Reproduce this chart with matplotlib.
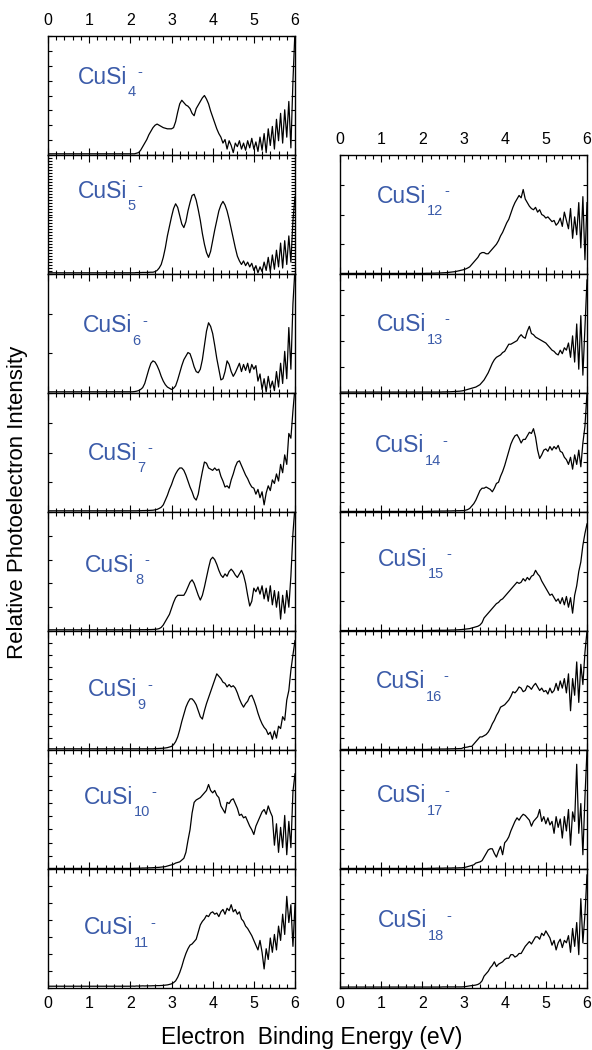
import numpy as np
import matplotlib
matplotlib.use("Agg")
from matplotlib import pyplot as plt
from matplotlib.ticker import MultipleLocator

plt.rcParams['font.family'] = ['Liberation Sans', 'DejaVu Sans']

# energy grid of the read-off points (eV), 0.05 eV steps from 2 to 6
energy = np.linspace(2.0, 6.0, 81)

# relative intensities (fraction of panel height)
cusi4 = [0.01, 0.01, 0.01, 0.015, 0.02, 0.04, 0.07, 0.10, 0.13, 0.17,
         0.20, 0.23, 0.25, 0.26, 0.25, 0.24, 0.23, 0.225, 0.22, 0.22,
         0.22, 0.23, 0.28, 0.36, 0.43, 0.46, 0.44, 0.42, 0.41, 0.39,
         0.35, 0.33, 0.39, 0.42, 0.45, 0.48, 0.50, 0.47, 0.43, 0.37,
         0.32, 0.27, 0.22, 0.18, 0.15, 0.10, 0.13, 0.05, 0.12, 0.08,
         0.02, 0.10, 0.07, 0.12, 0.05, 0.10, 0.04, 0.12, 0.06, 0.14,
         0.05, 0.11, 0.03, 0.15, 0.04, 0.18, 0.02, 0.22, 0.08, 0.24,
         0.05, 0.30, 0.12, 0.35, 0.10, 0.38, 0.15, 0.45, 0.06, 0.62,
         1.05]
cusi5 = [0.01, 0.01, 0.01, 0.012, 0.012, 0.012, 0.013, 0.013, 0.013, 0.014,
         0.015, 0.015, 0.02, 0.03, 0.05, 0.08, 0.14, 0.22, 0.32, 0.40,
         0.48, 0.55, 0.59, 0.56, 0.49, 0.42, 0.39, 0.44, 0.53, 0.60,
         0.66, 0.67, 0.62, 0.54, 0.45, 0.34, 0.25, 0.18, 0.14, 0.19,
         0.28, 0.37, 0.45, 0.53, 0.58, 0.61, 0.58, 0.53, 0.46, 0.38,
         0.30, 0.22, 0.15, 0.11, 0.08, 0.11, 0.07, 0.10, 0.06, 0.09,
         0.03, 0.07, 0.01, 0.06, 0.02, 0.10, 0.03, 0.14, 0.02, 0.16,
         0.04, 0.20, 0.06, 0.26, 0.05, 0.28, 0.08, 0.32, 0.10, 0.45,
         0.65]
cusi6 = [0.01, 0.01, 0.012, 0.015, 0.02, 0.03, 0.045, 0.08, 0.14, 0.20,
         0.25, 0.27, 0.26, 0.23, 0.19, 0.14, 0.10, 0.07, 0.05, 0.04,
         0.03, 0.04, 0.06, 0.11, 0.17, 0.23, 0.28, 0.31, 0.34, 0.33,
         0.28, 0.22, 0.18, 0.17, 0.20, 0.28, 0.40, 0.52, 0.59, 0.56,
         0.50, 0.40, 0.29, 0.20, 0.11, 0.12, 0.18, 0.27, 0.24, 0.18,
         0.14, 0.17, 0.21, 0.25, 0.18, 0.24, 0.19, 0.25, 0.17, 0.24,
         0.20, 0.23, 0.10, 0.16, 0.03, 0.12, 0.01, 0.14, 0.04, 0.10,
         0.02, 0.18, 0.05, 0.25, 0.08, 0.35, 0.12, 0.55, 0.20, 0.75,
         1.05]
cusi7 = [0.01, 0.01, 0.01, 0.01, 0.011, 0.011, 0.012, 0.012, 0.013, 0.013,
         0.014, 0.015, 0.018, 0.022, 0.03, 0.04, 0.06, 0.10, 0.14, 0.19,
         0.23, 0.28, 0.32, 0.35, 0.37, 0.37, 0.35, 0.31, 0.26, 0.21,
         0.17, 0.12, 0.10, 0.15, 0.25, 0.34, 0.42, 0.41, 0.37, 0.36,
         0.35, 0.37, 0.35, 0.36, 0.30, 0.26, 0.21, 0.22, 0.20, 0.27,
         0.32, 0.38, 0.42, 0.43, 0.39, 0.35, 0.31, 0.28, 0.24, 0.21,
         0.20, 0.15, 0.19, 0.12, 0.17, 0.06, 0.16, 0.22, 0.18, 0.27,
         0.24, 0.32, 0.26, 0.40, 0.33, 0.48, 0.40, 0.66, 0.62, 0.85,
         1.05]
cusi8 = [0.01, 0.01, 0.01, 0.01, 0.01, 0.011, 0.011, 0.011, 0.012, 0.012,
         0.012, 0.013, 0.014, 0.016, 0.02, 0.03, 0.05, 0.08, 0.11, 0.14,
         0.19, 0.24, 0.28, 0.30, 0.30, 0.30, 0.30, 0.33, 0.37, 0.41,
         0.43, 0.40, 0.35, 0.30, 0.26, 0.30, 0.37, 0.45, 0.53, 0.60,
         0.62, 0.60, 0.56, 0.51, 0.47, 0.45, 0.48, 0.46, 0.50, 0.52,
         0.50, 0.47, 0.45, 0.48, 0.51, 0.47, 0.40, 0.30, 0.21, 0.25,
         0.36, 0.33, 0.37, 0.31, 0.38, 0.27, 0.36, 0.25, 0.38, 0.22,
         0.34, 0.20, 0.33, 0.10, 0.30, 0.15, 0.34, 0.20, 0.46, 0.82,
         1.05]
cusi9 = [0.01, 0.01, 0.01, 0.01, 0.01, 0.01, 0.01, 0.01, 0.01, 0.01,
         0.01, 0.01, 0.012, 0.012, 0.013, 0.014, 0.015, 0.017, 0.02, 0.025,
         0.03, 0.045, 0.07, 0.11, 0.17, 0.24, 0.30, 0.36, 0.40, 0.43,
         0.43, 0.41, 0.38, 0.33, 0.28, 0.26, 0.33, 0.39, 0.44, 0.49,
         0.54, 0.59, 0.64, 0.62, 0.60, 0.57, 0.56, 0.53, 0.55, 0.53,
         0.54, 0.52, 0.48, 0.43, 0.39, 0.36, 0.39, 0.41, 0.45, 0.46,
         0.42, 0.37, 0.31, 0.26, 0.22, 0.19, 0.17, 0.13, 0.15, 0.09,
         0.16, 0.10, 0.20, 0.18, 0.28, 0.25, 0.42, 0.50, 0.67, 0.80,
         0.92]
cusi10 = [0.005, 0.005, 0.006, 0.006, 0.007, 0.007, 0.008, 0.008, 0.009, 0.01,
          0.01, 0.011, 0.012, 0.013, 0.014, 0.016, 0.018, 0.02, 0.025, 0.03,
          0.035, 0.04, 0.05, 0.055, 0.06, 0.075, 0.09, 0.14, 0.24, 0.33,
          0.47, 0.56, 0.58, 0.59, 0.60, 0.62, 0.64, 0.66, 0.71, 0.66,
          0.64, 0.66, 0.62, 0.60, 0.53, 0.50, 0.47, 0.56, 0.55, 0.58,
          0.59, 0.55, 0.51, 0.45, 0.46, 0.43, 0.44, 0.40, 0.36, 0.33,
          0.29, 0.36, 0.40, 0.44, 0.48, 0.50, 0.46, 0.53, 0.48, 0.44,
          0.20, 0.38, 0.14, 0.35, 0.18, 0.45, 0.12, 0.40, 0.18, 0.65,
          0.80]
cusi11 = [0.015, 0.016, 0.015, 0.017, 0.016, 0.017, 0.018, 0.017, 0.018, 0.018,
          0.018, 0.019, 0.019, 0.02, 0.02, 0.021, 0.022, 0.024, 0.026, 0.03,
          0.035, 0.045, 0.06, 0.09, 0.13, 0.18, 0.24, 0.29, 0.33, 0.36,
          0.37, 0.39, 0.41, 0.47, 0.53, 0.56, 0.58, 0.61, 0.60, 0.63,
          0.64, 0.62, 0.63, 0.60, 0.64, 0.66, 0.62, 0.67, 0.65, 0.70,
          0.64, 0.66, 0.62, 0.64, 0.58, 0.56, 0.52, 0.50, 0.47, 0.44,
          0.40, 0.36, 0.32, 0.40, 0.30, 0.16, 0.33, 0.24, 0.42, 0.30,
          0.45, 0.32, 0.52, 0.40, 0.62, 0.45, 0.77, 0.55, 0.70, 0.35,
          0.70]
cusi12 = [0.005, 0.005, 0.006, 0.006, 0.006, 0.007, 0.007, 0.008, 0.008, 0.009,
          0.01, 0.011, 0.012, 0.014, 0.016, 0.018, 0.02, 0.024, 0.028, 0.032,
          0.036, 0.042, 0.05, 0.06, 0.08, 0.10, 0.12, 0.14, 0.17, 0.18,
          0.18, 0.17, 0.17, 0.19, 0.21, 0.23, 0.25, 0.28, 0.32, 0.35,
          0.39, 0.43, 0.46, 0.51, 0.56, 0.60, 0.63, 0.66, 0.64, 0.71,
          0.63, 0.60, 0.57, 0.55, 0.54, 0.56, 0.52, 0.54, 0.50, 0.49,
          0.47, 0.48, 0.46, 0.44, 0.45, 0.41, 0.43, 0.47, 0.40, 0.52,
          0.45, 0.38, 0.55, 0.30, 0.48, 0.33, 0.60, 0.22, 0.65, 0.12,
          0.60]
cusi13 = [0.008, 0.008, 0.008, 0.008, 0.008, 0.008, 0.008, 0.008, 0.008, 0.008,
          0.009, 0.009, 0.01, 0.01, 0.011, 0.012, 0.013, 0.014, 0.015, 0.017,
          0.02, 0.025, 0.03, 0.035, 0.04, 0.045, 0.05, 0.06, 0.07, 0.09,
          0.11, 0.14, 0.17, 0.21, 0.25, 0.28, 0.30, 0.31, 0.32, 0.34,
          0.35, 0.38, 0.41, 0.41, 0.42, 0.43, 0.44, 0.47, 0.49, 0.47,
          0.46, 0.52, 0.56, 0.50, 0.49, 0.47, 0.46, 0.45, 0.44, 0.43,
          0.42, 0.40, 0.38, 0.36, 0.35, 0.33, 0.32, 0.36, 0.33, 0.38,
          0.36, 0.42, 0.30, 0.48, 0.26, 0.58, 0.20, 0.65, 0.15, 0.55,
          0.95]
cusi14 = [0.005, 0.005, 0.005, 0.006, 0.006, 0.006, 0.007, 0.007, 0.007, 0.008,
          0.008, 0.008, 0.009, 0.009, 0.009, 0.01, 0.01, 0.011, 0.011, 0.012,
          0.012, 0.015, 0.02, 0.03, 0.05, 0.07, 0.10, 0.14, 0.18, 0.20,
          0.20, 0.21, 0.20, 0.19, 0.17, 0.20, 0.24, 0.25, 0.30, 0.34,
          0.39, 0.45, 0.51, 0.57, 0.61, 0.64, 0.65, 0.62, 0.58, 0.61,
          0.61, 0.64, 0.67, 0.66, 0.70, 0.63, 0.52, 0.45, 0.48, 0.52,
          0.53, 0.51, 0.55, 0.52, 0.55, 0.53, 0.56, 0.51, 0.50, 0.46,
          0.44, 0.40, 0.46, 0.36, 0.48, 0.40, 0.52, 0.38, 0.58, 0.72,
          1.00]
cusi15 = [0.004, 0.004, 0.004, 0.005, 0.005, 0.005, 0.005, 0.006, 0.006, 0.006,
          0.006, 0.006, 0.007, 0.007, 0.008, 0.008, 0.009, 0.010, 0.011, 0.012,
          0.014, 0.016, 0.018, 0.02, 0.025, 0.03, 0.035, 0.04, 0.05, 0.07,
          0.11, 0.13, 0.15, 0.17, 0.19, 0.21, 0.23, 0.24, 0.26, 0.27,
          0.29, 0.31, 0.33, 0.35, 0.37, 0.39, 0.41, 0.40, 0.41, 0.44,
          0.42, 0.45, 0.43, 0.46, 0.47, 0.51, 0.48, 0.46, 0.42, 0.39,
          0.36, 0.33, 0.30, 0.31, 0.28, 0.25, 0.27, 0.23, 0.28, 0.22,
          0.29, 0.20, 0.28, 0.15, 0.30, 0.38, 0.50, 0.58, 0.72, 0.82,
          0.90]
cusi16 = [0.005, 0.005, 0.005, 0.006, 0.006, 0.006, 0.007, 0.007, 0.007, 0.008,
          0.008, 0.008, 0.009, 0.009, 0.01, 0.01, 0.011, 0.011, 0.012, 0.012,
          0.02, 0.022, 0.025, 0.03, 0.03, 0.05, 0.07, 0.09, 0.11, 0.11,
          0.12, 0.13, 0.15, 0.18, 0.22, 0.25, 0.29, 0.32, 0.36, 0.37,
          0.38, 0.40, 0.42, 0.45, 0.49, 0.48, 0.50, 0.53, 0.52, 0.49,
          0.50, 0.54, 0.53, 0.51, 0.54, 0.56, 0.53, 0.50, 0.52, 0.49,
          0.50, 0.47, 0.52, 0.48, 0.50, 0.56, 0.50, 0.58, 0.52, 0.60,
          0.48, 0.64, 0.33, 0.60, 0.46, 0.74, 0.40, 0.72, 0.55, 0.82,
          1.00]
cusi17 = [0.005, 0.005, 0.005, 0.006, 0.006, 0.006, 0.006, 0.007, 0.007, 0.007,
          0.007, 0.008, 0.008, 0.008, 0.008, 0.009, 0.009, 0.009, 0.01, 0.01,
          0.012, 0.015, 0.02, 0.025, 0.03, 0.035, 0.05, 0.055, 0.06, 0.07,
          0.10, 0.13, 0.16, 0.17, 0.17, 0.13, 0.10, 0.15, 0.19, 0.12,
          0.22, 0.24, 0.27, 0.32, 0.36, 0.40, 0.43, 0.41, 0.44, 0.46,
          0.45, 0.43, 0.41, 0.36, 0.40, 0.42, 0.44, 0.50, 0.40, 0.44,
          0.38, 0.43, 0.37, 0.40, 0.30, 0.44, 0.35, 0.42, 0.26, 0.44,
          0.32, 0.50, 0.20, 0.48, 0.40, 0.88, 0.30, 0.55, 0.12, 0.60,
          1.00]
cusi18 = [0.008, 0.008, 0.008, 0.008, 0.008, 0.008, 0.008, 0.008, 0.008, 0.008,
          0.009, 0.009, 0.009, 0.009, 0.009, 0.009, 0.009, 0.009, 0.009, 0.009,
          0.01, 0.012, 0.015, 0.018, 0.02, 0.022, 0.025, 0.03, 0.04, 0.06,
          0.10, 0.12, 0.14, 0.17, 0.19, 0.22, 0.18, 0.20, 0.21, 0.22,
          0.24, 0.25, 0.25, 0.28, 0.28, 0.26, 0.27, 0.29, 0.29, 0.32,
          0.35, 0.37, 0.39, 0.37, 0.40, 0.43, 0.43, 0.41, 0.46, 0.44,
          0.48, 0.45, 0.42, 0.36, 0.40, 0.32, 0.38, 0.41, 0.34, 0.40,
          0.38, 0.44, 0.30, 0.50, 0.35, 0.55, 0.28, 0.75, 0.38, 0.62,
          0.95]

left_sizes = [4, 5, 6, 7, 8, 9, 10, 11]
right_sizes = [12, 13, 14, 15, 16, 17, 18]
spectra = {4: cusi4, 5: cusi5, 6: cusi6, 7: cusi7, 8: cusi8, 9: cusi9,
           10: cusi10, 11: cusi11, 12: cusi12, 13: cusi13, 14: cusi14,
           15: cusi15, 16: cusi16, 17: cusi17, 18: cusi18}

# panel layout / styling
ytick_div = {4: 8, 5: 40, 6: 3, 7: 4, 8: 5, 9: 10, 10: 9, 11: 7,
             12: 4, 13: 4.6, 14: 12, 15: 4, 16: 10, 17: 6, 18: 8}
label_xy = {4: (0.12, 0.60), 5: (0.12, 0.64), 6: (0.14, 0.51), 7: (0.16, 0.44),
            8: (0.15, 0.50), 9: (0.16, 0.45), 10: (0.145, 0.55), 11: (0.145, 0.45),
            12: (0.15, 0.60), 13: (0.15, 0.52), 14: (0.14, 0.50), 15: (0.155, 0.55),
            16: (0.145, 0.52), 17: (0.15, 0.56), 18: (0.155, 0.51)}
label_color = '#3b5ba9'

W, H = 592, 1050
fig = plt.figure(figsize=(W / 100, H / 100), dpi=100)

panel_h = 119.0
left_x0, right_x0, panel_w = 48.0, 340.0, 247.0
top_y = 36.0


def draw_panel(n, x0, row, first, last):
    y_top = top_y + row * panel_h
    ax = fig.add_axes([x0 / W, 1 - (y_top + panel_h) / H, panel_w / W, panel_h / H])
    vals = spectra[n]
    xs = np.concatenate([[0.0], energy])
    ys = [vals[0]] + list(vals)
    ax.plot(xs, ys, color='black', lw=0.9)
    ax.set_xlim(0, 6)
    ax.set_ylim(0, 1)
    ax.xaxis.set_major_locator(MultipleLocator(1))
    ax.xaxis.set_minor_locator(MultipleLocator(0.2))
    ax.yaxis.set_major_locator(MultipleLocator(1.0 / ytick_div[n]))
    ax.tick_params(axis='both', which='both', direction='in', top=True, right=True,
                   labelleft=False, labelbottom=last, labeltop=first,
                   labelsize=11.5, pad=6, width=0.8)
    ax.tick_params(axis='x', which='major', length=5)
    ax.tick_params(axis='x', which='minor', length=3)
    ax.tick_params(axis='y', which='major', length=3)
    for s in ax.spines.values():
        s.set_linewidth(1.0)
    # label: CuSi with lowered subscript and small superscript hyphen
    lx, ly = label_xy[n]
    t = ax.text(lx, ly, 'CuSi', transform=ax.transAxes, color=label_color,
                fontsize=16.5, ha='left', va='baseline')
    sub = ax.annotate(str(n), xy=(1, 0), xycoords=t, xytext=(0.5, 2.5),
                      textcoords='offset points', color=label_color,
                      fontsize=10.5, ha='left', va='top')
    ax.annotate('-', xy=(1, 1), xycoords=(sub, t), xytext=(1.0, -4.5),
                textcoords='offset points', color=label_color,
                fontsize=10.5, ha='left', va='center')
    return ax


for i, n in enumerate(left_sizes):
    draw_panel(n, left_x0, i, i == 0, i == len(left_sizes) - 1)
for i, n in enumerate(right_sizes):
    draw_panel(n, right_x0, i + 1, i == 0, i == len(right_sizes) - 1)

fig.text(18 / W, 1 - 502 / H, 'Relative Photoelectron Intensity', rotation=90,
         ha='center', va='center', fontsize=16)
fig.text(312 / W, 1 - 1044 / H, 'Electron  Binding Energy (eV)',
         ha='center', va='baseline', fontsize=16.5)

fig.savefig('out.png', dpi=100)
